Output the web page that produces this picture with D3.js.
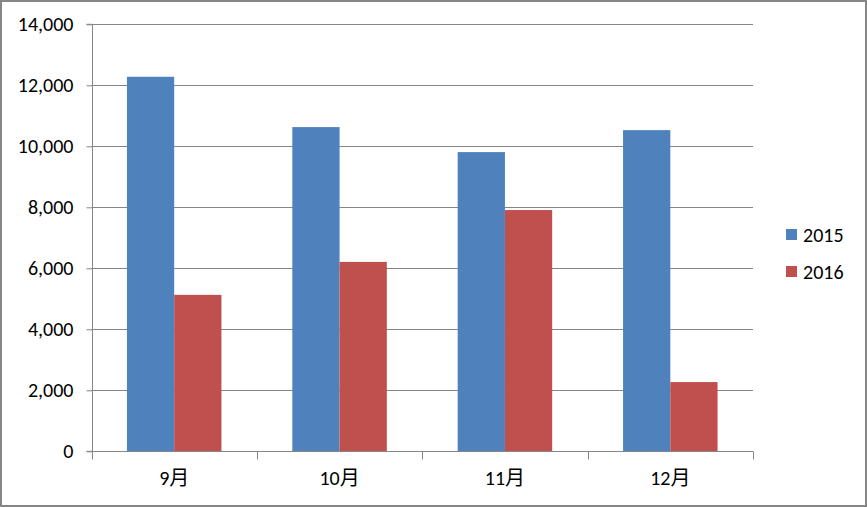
<!DOCTYPE html>
<html><head><meta charset="utf-8">
<script src="https://cdn.jsdelivr.net/npm/d3@7"></script>
<style>
html,body{margin:0;padding:0;background:#fff;}
svg{display:block;}
text{font-family:Carlito,"Liberation Sans","Noto Sans CJK SC",sans-serif;fill:#000;}
</style></head>
<body>
<svg id="c" width="867" height="507"></svg>
<script>
const categories = ["9月","10月","11月","12月"];
const seriesNames = ["2015","2016"];
const values2015 = [12280, 10630, 9810, 10530];
const values2016 = [5130, 6210, 7910, 2270];
const yTicks = [0,2000,4000,6000,8000,10000,12000,14000];
const colors = ["#4F81BD","#C0504D"];

(function(){
const svg = d3.select("#c");
svg.append("rect").attr("x",1).attr("y",1).attr("width",865).attr("height",505)
  .attr("fill","#fff").attr("stroke","#868686").attr("stroke-width",2);

const pLeft=91.5, pRight=753, pTop=24.3, pBottom=451.3;
const x0 = d3.scaleBand().domain(categories).range([pLeft,pRight]).paddingInner(0).paddingOuter(0);
const x1 = d3.scaleBand().domain(seriesNames).range([0,x0.bandwidth()]).paddingOuter(0.75).paddingInner(0);
const y = d3.scaleLinear().domain([0,14000]).range([pBottom,pTop]);

svg.append("g").selectAll("line").data(yTicks.filter(d=>d>0)).join("line")
  .attr("x1",pLeft).attr("x2",pRight).attr("y1",d=>Math.round(y(d))+0.5).attr("y2",d=>Math.round(y(d))+0.5)
  .attr("stroke","#868686").attr("stroke-width",1);

const data = categories.map((c,i)=>({c, v:[values2015[i],values2016[i]]}));
const g = svg.append("g");
data.forEach(d=>{
  seriesNames.forEach((s,j)=>{
    g.append("rect")
      .attr("x",x0(d.c)+x1(s)).attr("width",x1.bandwidth())
      .attr("y",y(d.v[j])).attr("height",pBottom-y(d.v[j]))
      .attr("fill",colors[j]);
  });
});

const yAxis = d3.axisLeft(y).tickValues(yTicks).tickSize(6).tickPadding(13)
  .tickFormat(d3.format(","));
const ya = svg.append("g").attr("transform",`translate(${Math.round(pLeft)+0.5},0)`).call(yAxis);
ya.select(".domain").attr("stroke","#868686").attr("d",`M-6,${pTop}H0V${pBottom}H-6`);
ya.selectAll(".tick line").attr("stroke","#868686");
ya.selectAll("text").attr("font-size","20px").style("font-family",'Carlito,"Liberation Sans",sans-serif');

const xAxis = d3.axisBottom(x0).tickSize(0).tickPadding(19);
const xa = svg.append("g").attr("transform",`translate(0,${Math.round(pBottom)+0.5})`).call(xAxis);
xa.select(".domain").remove();
xa.selectAll("text").attr("font-size","20px");
const bounds = categories.map(c=>x0(c)).concat([pRight]);
xa.append("g").selectAll("line").data(bounds).join("line")
  .attr("x1",d=>Math.round(d)+0.5).attr("x2",d=>Math.round(d)+0.5).attr("y1",0).attr("y2",8)
  .attr("stroke","#868686");
xa.append("line").attr("x1",pLeft).attr("x2",pRight).attr("stroke","#868686");

const lg = svg.append("g");
seriesNames.forEach((s,i)=>{
  const yy = 229 + i*37;
  lg.append("rect").attr("x",786).attr("y",yy).attr("width",11).attr("height",11).attr("fill",colors[i]);
  lg.append("text").attr("x",803).attr("y",yy+5.5).attr("dy","0.35em").attr("font-size","20px").text(s);
});
})();
</script>
</body></html>
